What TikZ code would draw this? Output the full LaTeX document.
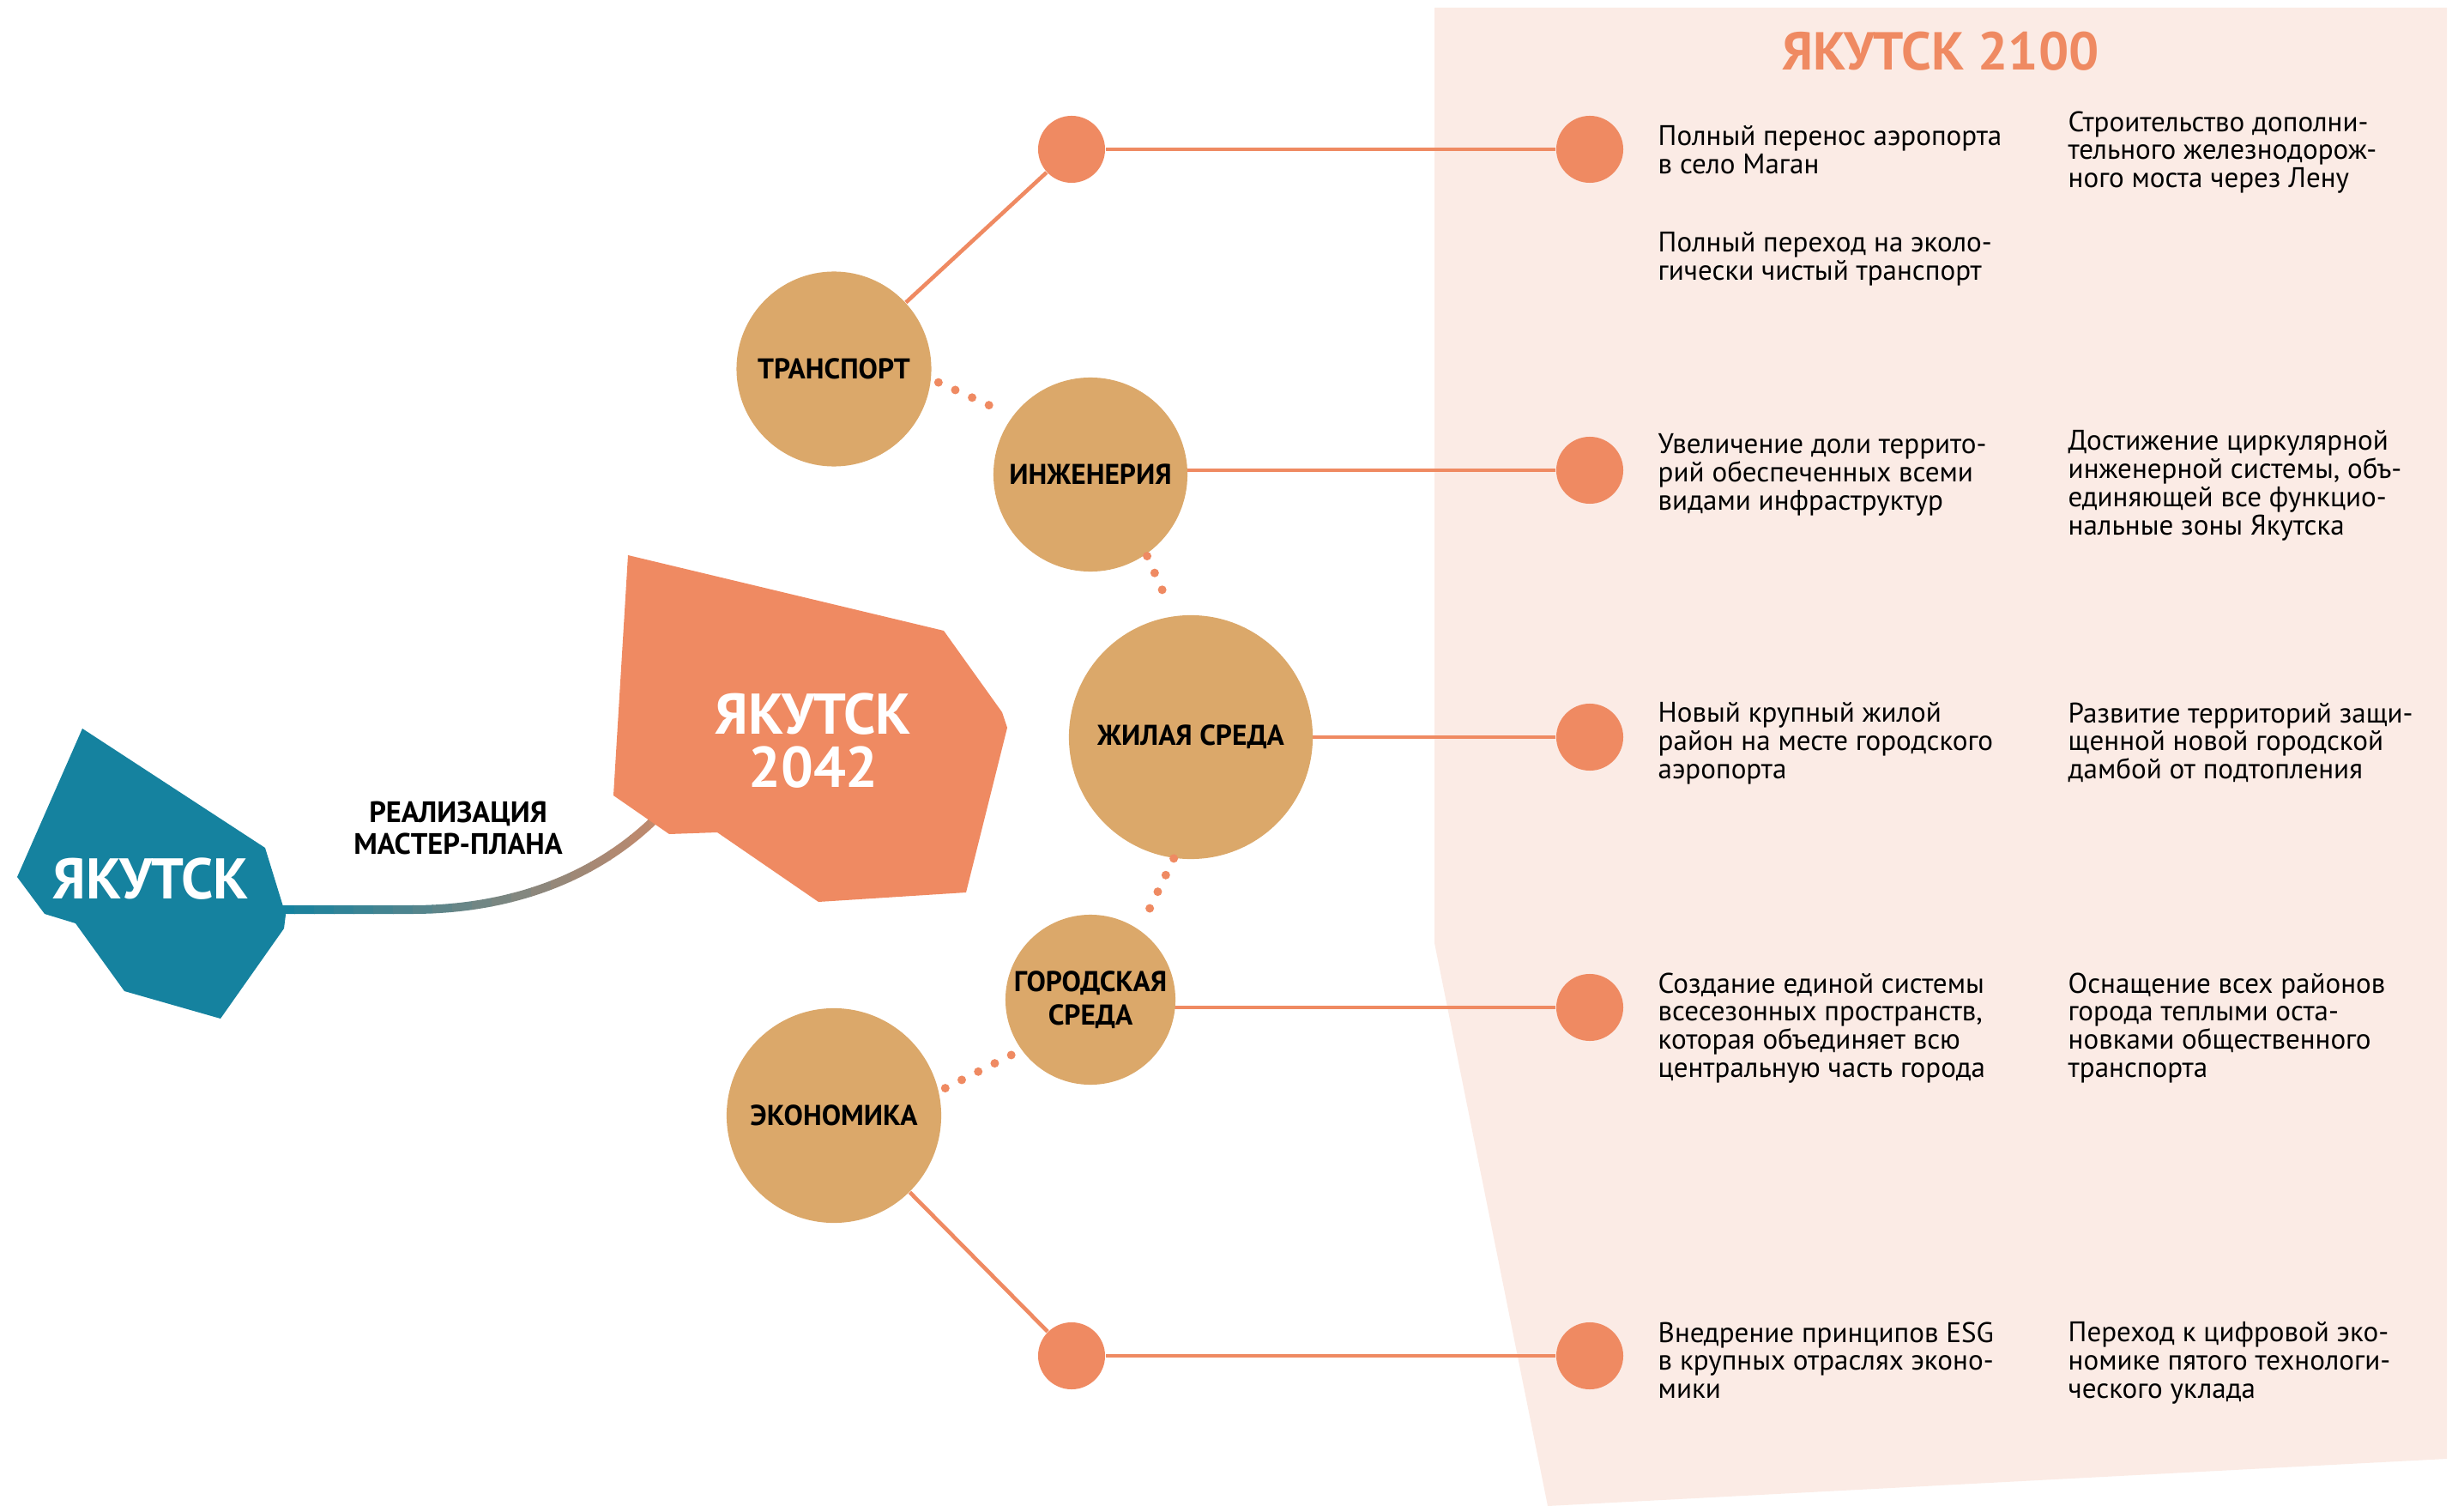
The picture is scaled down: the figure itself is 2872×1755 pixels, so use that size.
\documentclass[tikz,border=0pt]{standalone}
\usepackage{fontspec}
\setmainfont{PT Sans}
\usepackage{xcolor}
\usepackage{tikz}
\usetikzlibrary{calc, backgrounds}
\definecolor{yteal}{RGB}{21,130,159}
\definecolor{yorange}{RGB}{239,138,98}
\definecolor{ytan}{RGB}{219,168,106}
\definecolor{ypink}{RGB}{251,235,229}
\definecolor{ygrad}{RGB}{205,138,105}
\tikzset{
    topic/.style={circle, fill=ytan, inner sep=0pt, align=center,
                  font=\bfseries\fontsize{9.5}{11}\selectfont},
    pointdot/.style={circle, fill=yorange, inner sep=0pt,
                     minimum size=0.78cm},
    goal/.style={anchor=north west, inner sep=0pt, align=left,
                 font=\fontsize{9.4}{9.3}\selectfont},
    city/.style={text=white, align=center,
                 font=\bfseries\fontsize{19}{17.5}\selectfont},
    hline/.style={draw=yorange, line width=0.046cm},
    dotline/.style={draw=yorange, line width=0.1cm, line cap=round,
                    dash pattern=on 0pt off 0.215cm}
}

\begin{document}
\begin{tikzpicture}[x=0.01cm, y=-0.01cm]
\useasboundingbox (0,0) rectangle (2872,1755);

% ── Master plan connector (teal → orange) ─────────────────────────────
\coordinate (yak-out) at (320,1060);
\coordinate (y42-in)  at (770,948);
\foreach \i in {0,...,19} {
  \pgfmathsetmacro{\mix}{100-5*\i}
  \begin{scope}
    \clip (320+23*\i,900) rectangle (344+23*\i,1100);
    \draw[line width=0.1cm, draw=yteal!\mix!ygrad] (yak-out) -- (480,1060)
        .. controls (600,1060) and (700,1020) .. (y42-in);
  \end{scope}
}

% ── City shapes ───────────────────────────────────────────────────────
\fill[yteal] (96,849) -- (309,988) -- (333,1066) -- (331,1082) -- (257,1187)
    -- (145,1155) -- (88,1076) -- (52,1065) -- (20,1022) -- cycle;
\fill[yorange] (732,647) -- (1100,735) -- (1168,830) -- (1174,848)
    -- (1126,1040) -- (954,1051) -- (836,970) -- (780,972) -- (715,927) -- cycle;

\node[city] (yak)   at (176,1024) {ЯКУТСК};
\node[city] (y2042) at (948,863)  {ЯКУТСК\\2042};
\node[align=center, font=\bfseries\fontsize{9.8}{10.4}\selectfont]
    (plan) at (534,965) {РЕАЛИЗАЦИЯ\\МАСТЕР-ПЛАНА};

% ── Topics ────────────────────────────────────────────────────────────
\node[topic, minimum size=2.27cm] (tr)   at (972,430)  {ТРАНСПОРТ};
\node[topic, minimum size=2.26cm] (inz)  at (1271,553) {ИНЖЕНЕРИЯ};
\node[topic, minimum size=2.84cm] (zhil) at (1388,859) {ЖИЛАЯ СРЕДА};
\node[topic, minimum size=1.98cm] (gor)  at (1271,1165) {ГОРОДСКАЯ\\СРЕДА};
\node[topic, minimum size=2.5cm]  (eco)  at (972,1300) {ЭКОНОМИКА};

\node[pointdot] (p1) at (1249,174)  {};
\node[pointdot] (p2) at (1249,1580) {};

% ── Goals 2100 ────────────────────────────────────────────────────────
\node[pointdot] (g1) at (1853,174)  {};
\node[pointdot] (g2) at (1853,548)  {};
\node[pointdot] (g3) at (1853,859)  {};
\node[pointdot] (g4) at (1853,1174) {};
\node[pointdot] (g5) at (1853,1580) {};

\node[text=yorange, font=\bfseries\fontsize{17.7}{18}\selectfont]
    (title) at (2262,60) {ЯКУТСК 2100};

\node[goal] (t1a) at (1932,146) {Полный перенос аэропорта\\в село Маган};
\node[goal] (t1b) at (2410,129) {Строительство дополни-\\тельного железнодорож-\\ного моста через Лену};
\node[goal] (t1c) at (1932,270) {Полный переход на эколо-\\гически чистый транспорт};
\node[goal] (t2a) at (1932,505) {Увеличение доли террито-\\рий обеспеченных всеми\\видами инфраструктур};
\node[goal] (t2b) at (2410,501) {Достижение циркулярной\\инженерной системы, объ-\\единяющей все функцио-\\нальные зоны Якутска};
\node[goal] (t3a) at (1932,818) {Новый крупный жилой\\район на месте городского\\аэропорта};
\node[goal] (t3b) at (2410,818) {Развитие территорий защи-\\щенной новой городской\\дамбой от подтопления};
\node[goal] (t4a) at (1932,1133) {Создание единой системы\\всесезонных пространств,\\которая объединяет всю\\центральную часть города};
\node[goal] (t4b) at (2410,1133) {Оснащение всех районов\\города теплыми оста-\\новками общественного\\транспорта};
\node[goal] (t5a) at (1932,1540) {Внедрение принципов ESG\\в крупных отраслях эконо-\\мики};
\node[goal] (t5b) at (2410,1540) {Переход к цифровой эко-\\номике пятого технологи-\\ческого уклада};

% ── Dotted links between topics ───────────────────────────────────────
\draw[dotline, shorten <=0.09cm, shorten >=0.09cm] (tr.-6)    -- (inz.143);
\draw[dotline, shorten <=0.02cm, shorten >=0.12cm] (inz.-55)  -- (zhil.98);
\draw[dotline, shorten >=0.06cm]                   (zhil.-98) -- (gor.55);
\draw[dotline, shorten <=0.13cm, shorten >=0.08cm] (gor.216)  -- (eco.13);

% ── Panel and solid links (behind) ────────────────────────────────────
\begin{scope}[on background layer]
\fill[ypink] (1672,9) -- (2852,9) -- (2852,1700) -- (1804,1755)
    -- (1672,1099) -- cycle;
\draw[hline] (tr) -- (p1);
\draw[hline] (p1) -- (g1);
\draw[hline] (g2) -- (g2 -| inz);
\draw[hline] (g3) -- (g3 -| zhil);
\draw[hline] (g4) -- (g4 -| gor);
\draw[hline] (eco) -- (p2);
\draw[hline] (p2) -- (g5);
\end{scope}
\end{tikzpicture}
\end{document}
